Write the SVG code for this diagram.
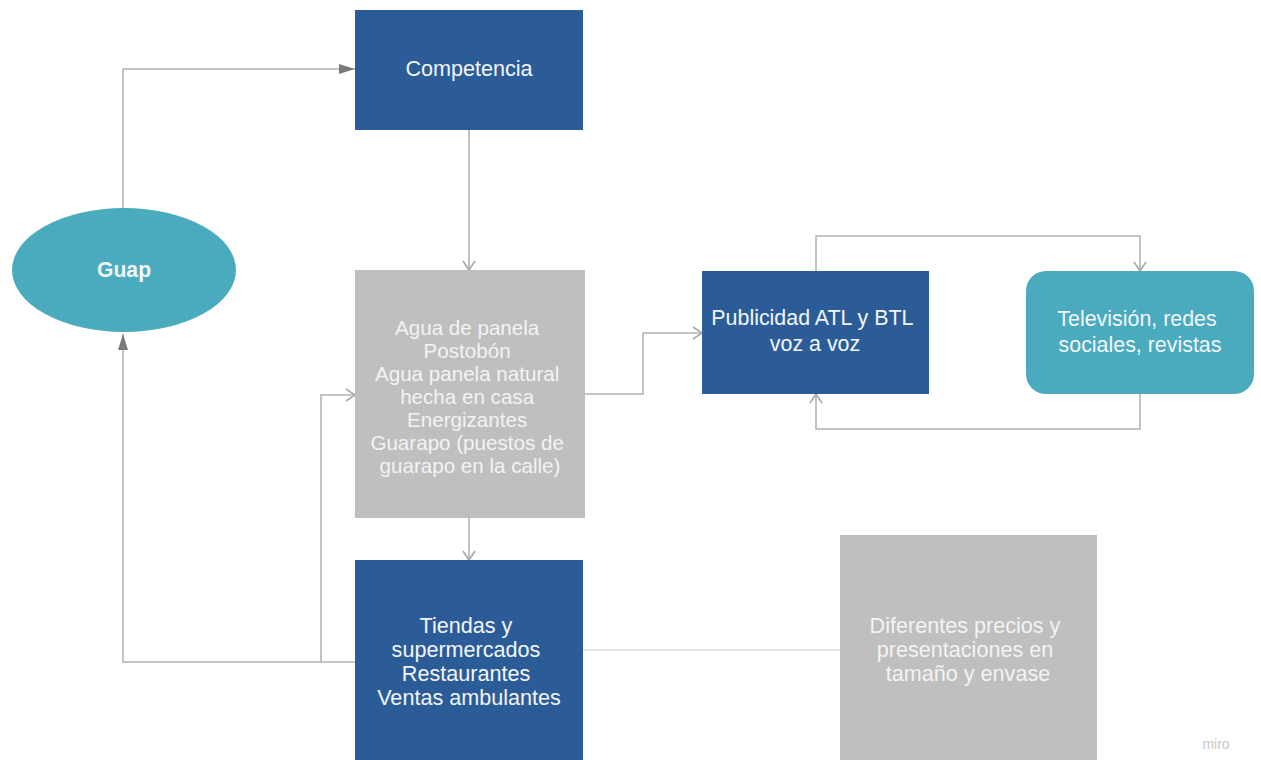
<svg xmlns="http://www.w3.org/2000/svg" width="1261" height="760" viewBox="0 0 1261 760">
<style>
.lbl{font-family:"Liberation Sans",Arial,sans-serif;font-size:21.4px;text-anchor:middle;dominant-baseline:central}
.sm{font-size:20.6px}
.bg{font-size:21.6px}
.bold{font-weight:bold;font-size:21.2px}
.w{fill:#f2f6fb}
.g{fill:#f3f3f3}
.blue{fill:#2c5c97}
.teal{fill:#4aabbf}
.grey{fill:#bfbfbf}
.con{fill:none;stroke:#b3b3b3;stroke-width:1.6}
.con2{fill:none;stroke:#dcdcdc;stroke-width:1.4}
</style>
<defs>
<marker id="chev" markerUnits="userSpaceOnUse" markerWidth="14" markerHeight="14" viewBox="0 0 14 14" refX="12" refY="7" orient="auto">
<path d="M3,1 L12,7 L3,13" fill="none" stroke="#a8a8a8" stroke-width="1.6"/>
</marker>
<marker id="tri" markerUnits="userSpaceOnUse" markerWidth="18" markerHeight="12" viewBox="0 0 18 12" refX="16" refY="6" orient="auto">
<path d="M0,1 L16,6 L0,11 Z" fill="#7a7a7a"/>
</marker>
</defs>
<rect width="1261" height="760" fill="#ffffff"/>
<g id="connectors">
<path class="con" d="M123,208 V69 H355" marker-end="url(#tri)"/>
<path class="con" d="M469,130 V270" marker-end="url(#chev)"/>
<path class="con" d="M469,518 V560" marker-end="url(#chev)"/>
<path class="con" d="M355,662 H123 V334" marker-end="url(#tri)"/>
<path class="con" d="M321,662 V395 H355" marker-end="url(#chev)"/>
<path class="con" d="M585,394 H643 V333 H702" marker-end="url(#chev)"/>
<path class="con" d="M816,271 V236 H1140 V271" marker-end="url(#chev)"/>
<path class="con" d="M1140,394 V429 H816 V394" marker-end="url(#chev)"/>
<path class="con2" d="M583,650 H840"/>
</g>
<g id="guap">
<ellipse class="teal" cx="124" cy="270" rx="112" ry="62"/>
<text class="lbl bold w" x="124" y="269">Guap</text>
</g>
<g id="competencia">
<rect class="blue" x="355" y="10" width="228" height="120"/>
<text class="lbl bg w" x="469" y="68">Competencia</text>
</g>
<g id="competidores">
<rect class="grey" x="355" y="270" width="230" height="248"/>
<text class="lbl sm g">
<tspan x="470" y="327">Agua de panela</tspan>
<tspan x="470" y="350">Postobón</tspan>
<tspan x="470" y="373">Agua panela natural</tspan>
<tspan x="470" y="396">hecha en casa</tspan>
<tspan x="470" y="419">Energizantes</tspan>
<tspan x="470" y="442">Guarapo (puestos de</tspan>
<tspan x="470" y="465">guarapo en la calle)</tspan>
</text>
</g>
<g id="publicidad">
<rect class="blue" x="702" y="271" width="227" height="123"/>
<text class="lbl w">
<tspan x="815" y="318">Publicidad ATL y BTL</tspan>
<tspan x="815" y="344">voz a voz</tspan>
</text>
</g>
<g id="medios">
<rect class="teal" x="1026" y="271" width="228" height="123" rx="20" ry="20"/>
<text class="lbl w">
<tspan x="1140" y="319">Televisión, redes</tspan>
<tspan x="1140" y="345">sociales, revistas</tspan>
</text>
</g>
<g id="canales">
<rect class="blue" x="355" y="560" width="228" height="210"/>
<text class="lbl bg w">
<tspan x="469" y="625">Tiendas y</tspan>
<tspan x="469" y="649">supermercados</tspan>
<tspan x="469" y="673">Restaurantes</tspan>
<tspan x="469" y="697">Ventas ambulantes</tspan>
</text>
</g>
<g id="precios">
<rect class="grey" x="840" y="535" width="257" height="235"/>
<text class="lbl bg g">
<tspan x="968" y="625">Diferentes precios y</tspan>
<tspan x="968" y="649">presentaciones en</tspan>
<tspan x="968" y="673">tamaño y envase</tspan>
</text>
</g>
<text x="1216" y="744" font-family="Liberation Sans,Arial,sans-serif" font-size="14" fill="#c8c8c8" text-anchor="middle" dominant-baseline="central">miro</text>
</svg>
